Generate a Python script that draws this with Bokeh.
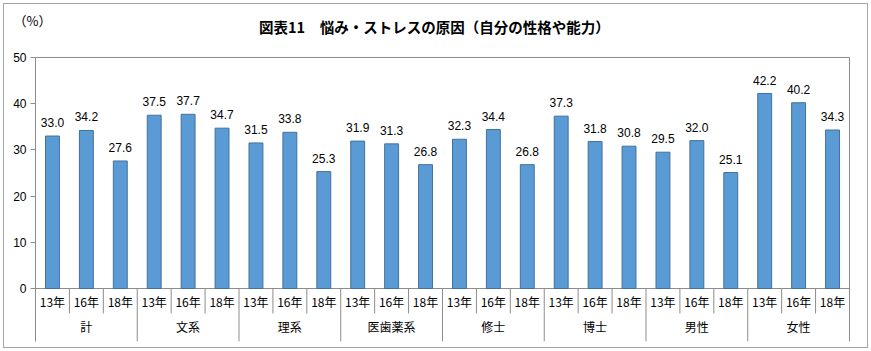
from bokeh.plotting import figure
from bokeh.models import Range1d, FixedTicker, ColumnDataSource, Title
from bokeh.core.properties import value
from bokeh.embed import file_html
from bokeh.resources import INLINE

# ---- data ----
groups = ["計", "文系", "理系", "医歯薬系", "修士", "博士", "男性", "女性"]
years = ["13年", "16年", "18年"]
rate_13 = [33.0, 37.5, 31.5, 31.9, 32.3, 37.3, 29.5, 42.2]
rate_16 = [34.2, 37.7, 33.8, 31.3, 34.4, 31.8, 32.0, 40.2]
rate_18 = [27.6, 34.7, 25.3, 26.8, 26.8, 30.8, 25.1, 34.3]
y_ticks = [0, 10, 20, 30, 40, 50]
title_text = "図表11　悩み・ストレスの原因（自分の性格や能力）"
unit_text = "（%）"

series = [rate_13, rate_16, rate_18]
n_year = len(years)
n_cat = len(groups) * n_year

xs, vals, labs, ylabs = [], [], [], []
for gi, g in enumerate(groups):
    for yi, yr in enumerate(years):
        xs.append(gi * n_year + yi + 0.5)
        vals.append(series[yi][gi])
        labs.append(f"{series[yi][gi]:.1f}")
        ylabs.append(yr)

src = ColumnDataSource(dict(x=xs, top=vals, lab=labs, ylab=ylabs))

Y_MAX = y_ticks[-1]
Y_BOTTOM = -11.47
Y_TOP = 58.0

p = figure(width=871, height=351, output_backend="svg", toolbar_location=None,
           x_range=Range1d(0, n_cat + 0.03), y_range=Range1d(Y_BOTTOM, Y_TOP),
           x_axis_location=None, min_border_left=35, min_border_right=21,
           min_border_top=20, min_border_bottom=10)
p.outline_line_color = None
p.xgrid.visible = False
p.ygrid.visible = False
p.background_fill_color = "white"
p.border_fill_color = None
p.styles = {"outline": "1px solid #a6a6a6", "outline-offset": "-4px", "background": "white"}

# unit label above the plot area (pulled down next to the frame)
p.add_layout(Title(text=unit_text, align="left", offset=-22, standoff=-19,
                   vertical_align="bottom",
                   text_font="Noto Sans CJK JP", text_font_size="13px",
                   text_font_style="normal", text_color="#000000"), "above")

ax = p.yaxis[0]
ax.ticker = FixedTicker(ticks=y_ticks)
ax.bounds = (Y_BOTTOM, Y_MAX)
ax.axis_line_color = "#8c8c8c"
ax.major_tick_line_color = "#8c8c8c"
ax.major_tick_out = 5
ax.major_tick_in = 0
ax.minor_tick_line_color = None
ax.major_label_standoff = 4
ax.major_label_text_font = "Liberation Sans"
ax.major_label_text_font_size = "12px"
ax.major_label_text_color = "#000000"

# chart title
p.text(x=[n_cat * 0.49], y=[Y_MAX + 6.7], text=[title_text], text_align="center",
       text_baseline="middle", text_font=value("Noto Sans CJK JP"), text_font_size="14.5px",
       text_font_style="bold", text_color="#000000")

line_col = "#8c8c8c"
# plot-area border lines (top, right) and baseline
p.segment(x0=[0, n_cat, 0], y0=[Y_MAX, Y_MAX, 0], x1=[n_cat, n_cat, n_cat], y1=[Y_MAX, Y_BOTTOM, 0],
          line_color=line_col, line_width=1)
# separators between years
sx = [i for i in range(1, n_cat) if i % n_year != 0]
p.segment(x0=sx, y0=[0] * len(sx), x1=sx, y1=[-5.4] * len(sx), line_color=line_col)
# separators between groups
gx = [i for i in range(n_year, n_cat, n_year)]
p.segment(x0=gx, y0=[0] * len(gx), x1=gx, y1=[Y_BOTTOM] * len(gx), line_color=line_col)

p.vbar(x="x", top="top", bottom=0, width=0.41, source=src,
       fill_color="#5B9BD5", line_color="#41719C", line_width=1)

p.text(x="x", y="top", text="lab", source=src, text_align="center", text_baseline="bottom",
       y_offset=-9, text_font=value("Liberation Sans"), text_font_size="12px", text_color="#000000")

p.text(x="x", y=-2.8, text="ylab", source=src, text_align="center", text_baseline="middle",
       text_font=value("Noto Sans CJK JP"), text_font_size="12px", text_color="#000000")

gcx = [gi * n_year + n_year / 2 for gi in range(len(groups))]
p.text(x=gcx, y=[-8.3] * len(groups), text=groups, text_align="center", text_baseline="middle",
       text_font=value("Noto Sans CJK JP"), text_font_size="12px", text_color="#000000")

open("out.html", "w").write(file_html(p, INLINE))
